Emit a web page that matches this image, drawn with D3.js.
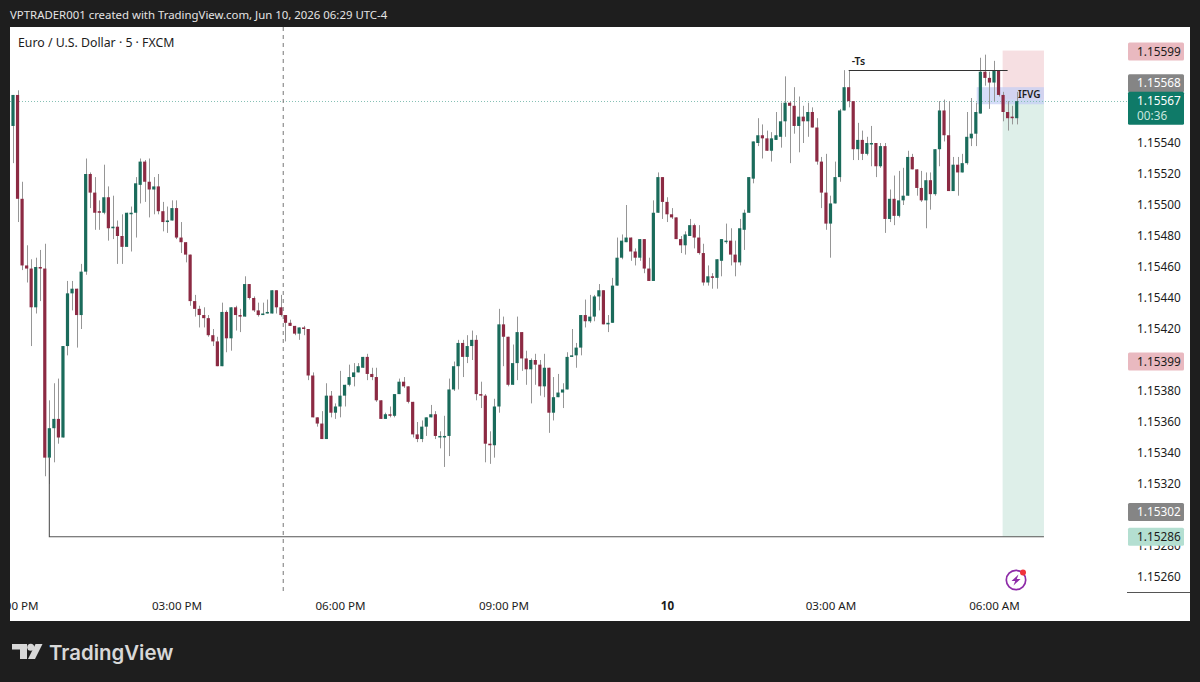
<!DOCTYPE html>
<html>
<head>
<meta charset="utf-8">
<style>
body { margin: 0; background: #1e1e1e; }
svg { display: block; }
text { font-family: "Noto Sans", sans-serif; }
</style>
<script src="https://cdn.jsdelivr.net/npm/d3@7"></script>
</head>
<body>
<svg id="chart" width="1200" height="682"></svg>
<script>
// candles (5 min EURUSD)
const opens = [1.15551,1.15571,1.15504,1.15461,1.15459,1.15434,1.15460,1.15459,1.15337,1.15356,
1.15362,1.15350,1.15409,1.15443,1.15446,1.15429,1.15457,1.15520,1.15508,1.15496,
1.15495,1.15505,1.15485,1.15486,1.15480,1.15473,1.15495,1.15495,1.15513,1.15528,
1.15515,1.15510,1.15512,1.15496,1.15489,1.15490,1.15498,1.15479,1.15476,1.15468,
1.15438,1.15433,1.15429,1.15427,1.15416,1.15412,1.15396,1.15431,1.15414,1.15434,
1.15429,1.15428,1.15449,1.15440,1.15432,1.15429,1.15430,1.15430,1.15445,1.15434,
1.15429,1.15424,1.15422,1.15417,1.15421,1.15420,1.15390,1.15363,1.15359,1.15349,
1.15377,1.15366,1.15370,1.15377,1.15384,1.15389,1.15392,1.15395,1.15402,1.15391,
1.15389,1.15374,1.15362,1.15365,1.15364,1.15378,1.15386,1.15383,1.15373,1.15352,
1.15349,1.15357,1.15363,1.15365,1.15351,1.15351,1.15351,1.15381,1.15396,1.15411,
1.15402,1.15409,1.15413,1.15378,1.15377,1.15346,1.15345,1.15370,1.15423,1.15415,
1.15384,1.15398,1.15418,1.15401,1.15394,1.15400,1.15397,1.15383,1.15395,1.15366,
1.15376,1.15379,1.15381,1.15402,1.15403,1.15408,1.15429,1.15425,1.15428,1.15441,
1.15445,1.15423,1.15424,1.15448,1.15466,1.15476,1.15479,1.15470,1.15466,1.15478,
1.15459,1.15451,1.15495,1.15518,1.15502,1.15494,1.15492,1.15478,1.15474,1.15480,
1.15487,1.15479,1.15469,1.15450,1.15454,1.15453,1.15464,1.15477,1.15477,1.15468,
1.15463,1.15484,1.15495,1.15517,1.15540,1.15545,1.15543,1.15535,1.15542,1.15544,
1.15554,1.15566,1.15564,1.15551,1.15557,1.15554,1.15560,1.15550,1.15528,1.15508,
1.15488,1.15501,1.15518,1.15561,1.15576,1.15567,1.15536,1.15542,1.15533,1.15540,
1.15540,1.15525,1.15538,1.15491,1.15504,1.15493,1.15503,1.15506,1.15531,1.15523,
1.15511,1.15503,1.15516,1.15507,1.15536,1.15561,1.15545,1.15509,1.15526,1.15521,
1.15527,1.15543,1.15546,1.15559,1.15586,1.15582,1.15579,1.15587,1.15571,1.15560,
1.15557,1.15556];
const highs = [1.15571,1.15574,1.15515,1.15474,1.15465,1.15466,1.15471,1.15475,1.15374,1.15385,
1.15388,1.15409,1.15451,1.15451,1.15446,1.15462,1.15530,1.15521,1.15518,1.15503,
1.15526,1.15512,1.15506,1.15490,1.15494,1.15495,1.15499,1.15518,1.15530,1.15529,
1.15530,1.15518,1.15520,1.15502,1.15499,1.15503,1.15503,1.15489,1.15476,1.15468,
1.15442,1.15435,1.15434,1.15429,1.15420,1.15415,1.15437,1.15432,1.15434,1.15435,
1.15433,1.15454,1.15449,1.15441,1.15437,1.15437,1.15439,1.15445,1.15445,1.15442,
1.15429,1.15426,1.15422,1.15421,1.15422,1.15420,1.15392,1.15363,1.15367,1.15385,
1.15380,1.15372,1.15393,1.15384,1.15397,1.15398,1.15398,1.15402,1.15404,1.15395,
1.15395,1.15374,1.15366,1.15370,1.15378,1.15388,1.15389,1.15383,1.15373,1.15360,
1.15361,1.15363,1.15371,1.15367,1.15354,1.15364,1.15388,1.15399,1.15413,1.15413,
1.15416,1.15419,1.15416,1.15386,1.15378,1.15354,1.15375,1.15433,1.15428,1.15415,
1.15410,1.15428,1.15418,1.15406,1.15401,1.15404,1.15400,1.15404,1.15395,1.15389,
1.15391,1.15385,1.15405,1.15420,1.15411,1.15429,1.15439,1.15442,1.15442,1.15449,
1.15445,1.15429,1.15453,1.15479,1.15481,1.15500,1.15479,1.15472,1.15478,1.15478,
1.15466,1.15503,1.15521,1.15518,1.15505,1.15498,1.15492,1.15480,1.15483,1.15491,
1.15488,1.15487,1.15475,1.15461,1.15456,1.15465,1.15478,1.15488,1.15485,1.15477,
1.15491,1.15497,1.15518,1.15541,1.15556,1.15552,1.15548,1.15547,1.15560,1.15566,
1.15583,1.15567,1.15576,1.15570,1.15564,1.15566,1.15563,1.15556,1.15531,1.15533,
1.15506,1.15528,1.15562,1.15587,1.15587,1.15567,1.15553,1.15548,1.15544,1.15551,
1.15540,1.15540,1.15540,1.15510,1.15519,1.15522,1.15524,1.15535,1.15533,1.15523,
1.15522,1.15521,1.15521,1.15536,1.15567,1.15568,1.15567,1.15531,1.15531,1.15533,
1.15560,1.15569,1.15566,1.15595,1.15597,1.15586,1.15593,1.15587,1.15573,1.15567,
1.15564,1.15573];
const lows = [1.15527,1.15489,1.15458,1.15450,1.15409,1.15430,1.15438,1.15325,1.15320,1.15334,
1.15346,1.15350,1.15403,1.15432,1.15408,1.15420,1.15455,1.15498,1.15484,1.15484,
1.15494,1.15477,1.15478,1.15462,1.15462,1.15473,1.15470,1.15479,1.15501,1.15502,
1.15492,1.15494,1.15494,1.15483,1.15482,1.15490,1.15478,1.15469,1.15463,1.15435,
1.15428,1.15421,1.15421,1.15415,1.15409,1.15396,1.15396,1.15405,1.15406,1.15419,
1.15418,1.15428,1.15439,1.15431,1.15428,1.15429,1.15430,1.15430,1.15430,1.15428,
1.15412,1.15422,1.15416,1.15413,1.15416,1.15387,1.15363,1.15357,1.15349,1.15349,
1.15363,1.15362,1.15363,1.15370,1.15383,1.15383,1.15392,1.15395,1.15387,1.15387,
1.15373,1.15362,1.15362,1.15363,1.15363,1.15378,1.15382,1.15372,1.15350,1.15347,
1.15347,1.15351,1.15363,1.15349,1.15343,1.15331,1.15338,1.15380,1.15381,1.15389,
1.15398,1.15400,1.15374,1.15369,1.15334,1.15333,1.15337,1.15366,1.15396,1.15383,
1.15384,1.15387,1.15393,1.15384,1.15372,1.15384,1.15377,1.15376,1.15353,1.15361,
1.15376,1.15369,1.15381,1.15402,1.15395,1.15403,1.15421,1.15424,1.15425,1.15432,
1.15423,1.15418,1.15424,1.15448,1.15465,1.15476,1.15464,1.15461,1.15464,1.15456,
1.15451,1.15451,1.15495,1.15491,1.15489,1.15491,1.15478,1.15469,1.15468,1.15480,
1.15472,1.15468,1.15448,1.15448,1.15446,1.15446,1.15454,1.15475,1.15461,1.15454,
1.15461,1.15471,1.15495,1.15514,1.15538,1.15530,1.15535,1.15528,1.15542,1.15537,
1.15544,1.15527,1.15546,1.15534,1.15540,1.15544,1.15550,1.15526,1.15498,1.15484,
1.15466,1.15501,1.15515,1.15561,1.15563,1.15529,1.15529,1.15529,1.15532,1.15525,
1.15518,1.15524,1.15482,1.15489,1.15487,1.15492,1.15500,1.15506,1.15523,1.15506,
1.15502,1.15485,1.15497,1.15506,1.15525,1.15541,1.15509,1.15509,1.15506,1.15521,
1.15526,1.15538,1.15538,1.15559,1.15577,1.15562,1.15567,1.15570,1.15554,1.15548,
1.15552,1.15552];
const closes = [1.15571,1.15504,1.15461,1.15459,1.15434,1.15460,1.15459,1.15337,1.15356,1.15362,
1.15350,1.15409,1.15443,1.15446,1.15429,1.15457,1.15520,1.15508,1.15495,1.15495,
1.15505,1.15485,1.15486,1.15480,1.15473,1.15495,1.15495,1.15514,1.15528,1.15515,
1.15510,1.15512,1.15496,1.15489,1.15490,1.15498,1.15479,1.15476,1.15468,1.15438,
1.15433,1.15429,1.15427,1.15416,1.15412,1.15396,1.15431,1.15414,1.15434,1.15429,
1.15428,1.15449,1.15440,1.15432,1.15429,1.15430,1.15431,1.15445,1.15434,1.15429,
1.15424,1.15422,1.15417,1.15421,1.15420,1.15390,1.15363,1.15359,1.15349,1.15377,
1.15366,1.15370,1.15377,1.15384,1.15389,1.15392,1.15396,1.15402,1.15391,1.15389,
1.15374,1.15362,1.15365,1.15364,1.15378,1.15386,1.15383,1.15373,1.15352,1.15349,
1.15357,1.15363,1.15365,1.15351,1.15351,1.15351,1.15381,1.15396,1.15411,1.15402,
1.15409,1.15413,1.15378,1.15377,1.15346,1.15345,1.15370,1.15423,1.15415,1.15384,
1.15398,1.15418,1.15401,1.15394,1.15400,1.15397,1.15383,1.15395,1.15366,1.15376,
1.15379,1.15381,1.15402,1.15403,1.15408,1.15429,1.15425,1.15428,1.15441,1.15445,
1.15423,1.15424,1.15448,1.15466,1.15477,1.15479,1.15470,1.15466,1.15478,1.15459,
1.15451,1.15495,1.15518,1.15502,1.15494,1.15492,1.15478,1.15474,1.15481,1.15487,
1.15479,1.15469,1.15450,1.15454,1.15453,1.15465,1.15478,1.15477,1.15468,1.15463,
1.15485,1.15495,1.15518,1.15541,1.15545,1.15543,1.15535,1.15543,1.15545,1.15554,
1.15566,1.15564,1.15551,1.15557,1.15554,1.15560,1.15550,1.15528,1.15508,1.15488,
1.15501,1.15518,1.15561,1.15576,1.15567,1.15536,1.15542,1.15533,1.15540,1.15540,
1.15525,1.15538,1.15491,1.15504,1.15493,1.15503,1.15506,1.15531,1.15523,1.15511,
1.15503,1.15516,1.15507,1.15536,1.15561,1.15545,1.15509,1.15526,1.15521,1.15527,
1.15544,1.15546,1.15560,1.15586,1.15582,1.15579,1.15587,1.15571,1.15560,1.15556,
1.15556,1.15567];

// axis labels
const priceTicks = [1.15540,1.15520,1.15500,1.15480,1.15460,1.15440,1.15420,1.15380,1.15360,1.15340,1.15320,1.15280,1.15260];
const timeTickBars = [0,36,72,108,144,180,216];
const timeTickLabels = ["12:00 PM","03:00 PM","06:00 PM","09:00 PM","10","03:00 AM","06:00 AM"];

// drawings on the chart
const lastPrice = 1.15567;
const countdown = "00:36";
const entryPrice = 1.15568;
const stopPrice = 1.15599;
const targetPrice = 1.15286;
const tsLevel = 1.15587;
const ifvgTop = 1.15576;
const ifvgBottom = 1.15565;
const sidePrices = [1.15599,1.15568,1.15399,1.15302,1.15286];
const sideFills = ["#e9b9c0","#858585","#e9b9c0","#858585","#b4dfd1"];
const sideText = ["#1c1c1c","#ffffff","#1c1c1c","#ffffff","#1c1c1c"];

const bullColor = "#1a6b5b", bearColor = "#8c2a43", wickColor = "#969696";

const svg = d3.select("#chart");

const x = d3.scaleLinear().domain([0, 221]).range([13, 1016.7]);
const y = d3.scaleLinear().domain([1.15260, 1.15540]).range([577, 143]);

// frame
svg.append("rect").attr("x", 10).attr("y", 27).attr("width", 1180).attr("height", 594).attr("fill", "#ffffff");

svg.append("defs").append("clipPath").attr("id", "pane")
  .append("rect").attr("x", 10).attr("y", 27).attr("width", 1118).attr("height", 594);

const pane = svg.append("g").attr("clip-path", "url(#pane)");

// position zones
const zoneLeft = 217.9, zoneRight = 227;
pane.append("rect").attr("x", x(zoneLeft)).attr("width", x(zoneRight) - x(zoneLeft))
  .attr("y", y(stopPrice) - 1).attr("height", y(entryPrice) - y(stopPrice) + 1).attr("fill", "#f6dfe2");
pane.append("rect").attr("x", x(zoneLeft)).attr("width", x(zoneRight) - x(zoneLeft))
  .attr("y", y(entryPrice)).attr("height", y(targetPrice) - y(entryPrice)).attr("fill", "#deefe9");
pane.append("rect").attr("x", x(212.2)).attr("width", x(zoneRight) - x(212.2))
  .attr("y", y(ifvgTop)).attr("height", y(ifvgBottom) - y(ifvgTop)).attr("fill", "#c3cdf5").attr("opacity", 0.7);

// last price dotted line and the dashed vertical
pane.append("line").attr("x1", 10).attr("x2", 1128)
  .attr("y1", Math.floor(y(lastPrice)) + 0.5).attr("y2", Math.floor(y(lastPrice)) + 0.5)
  .attr("stroke", "#86c0b5").attr("stroke-dasharray", "1 2");
pane.append("line").attr("x1", x(59.5)).attr("x2", x(59.5)).attr("y1", 27).attr("y2", 593)
  .attr("stroke", "#777777").attr("stroke-dasharray", "4 4");

// candles
const bars = d3.range(opens.length);
const candle = pane.append("g").selectAll("g").data(bars).join("g");
candle.append("line")
  .attr("x1", i => Math.round(x(i)) + 0.5).attr("x2", i => Math.round(x(i)) + 0.5)
  .attr("y1", i => y(highs[i])).attr("y2", i => y(lows[i]))
  .attr("stroke", wickColor);
candle.append("rect")
  .attr("x", i => x(i) - 1.6).attr("width", 3.2)
  .attr("y", i => y(Math.max(opens[i], closes[i])))
  .attr("height", i => Math.max(1.5, Math.abs(y(opens[i]) - y(closes[i]))))
  .attr("fill", i => closes[i] >= opens[i] ? bullColor : bearColor);

// bracket and level lines
pane.append("path")
  .attr("d", d3.line()([[x(8), y(closes[7])], [x(8), y(targetPrice)], [x(zoneRight), y(targetPrice)]]))
  .attr("fill", "none").attr("stroke", "#555555").attr("stroke-width", 1.1);
pane.append("line").attr("x1", x(184)).attr("x2", x(219))
  .attr("y1", Math.round(y(tsLevel)) + 0.5).attr("y2", Math.round(y(tsLevel)) + 0.5)
  .attr("stroke", "#333333");
pane.append("text").attr("x", x(184) + 3).attr("y", y(tsLevel) - 5)
  .attr("font-size", 10.5).attr("font-weight", 600).attr("fill", "#1c1c1c").text("-Ts");
pane.append("text").attr("x", 1018).attr("y", y(lastPrice) - 3.5)
  .attr("font-size", 10).attr("font-weight", 600).attr("fill", "#1c1c1c").text("IFVG");

// alert icon
const icon = pane.append("g").attr("transform", "translate(1016,580)");
icon.append("circle").attr("r", 9.7).attr("fill", "none").attr("stroke", "#8e2ca8").attr("stroke-width", 1.7);
icon.append("path").attr("d", "M2.5,-5.5 L-4.5,1 L-0.8,1 L-2.5,5.5 L4.5,-1 L0.8,-1 Z").attr("fill", "#8e2ca8");
icon.append("circle").attr("cx", 7).attr("cy", -7.5).attr("r", 3).attr("fill", "#f0323c");

// time axis
const xAxis = d3.axisBottom(x).tickValues(timeTickBars)
  .tickFormat((d, i) => timeTickLabels[i]).tickSize(0).tickPadding(0);
const xG = pane.append("g").attr("transform", "translate(0,602)").call(xAxis);
xG.select(".domain").remove();
xG.selectAll("text").attr("font-size", 11.6).attr("font-family", '"Noto Sans", sans-serif')
  .attr("fill", "#1c1c1c")
  .attr("font-weight", (d, i) => timeTickLabels[i] === "10" ? 700 : 400);

// price axis
const yAxis = d3.axisRight(y).tickValues(priceTicks).tickFormat(d3.format(".5f")).tickSize(0).tickPadding(0);
const yG = svg.append("g").attr("transform", "translate(1137,0)").call(yAxis);
yG.select(".domain").remove();
yG.selectAll("text").attr("font-size", 11.8).attr("font-family", '"Noto Sans", sans-serif').attr("fill", "#1c1c1c");
svg.append("line").attr("x1", 1127).attr("x2", 1190).attr("y1", 592.5).attr("y2", 592.5).attr("stroke", "#555555");

// price tags on the axis, the entry tag sits above the last price tag
const tagY = sidePrices.map(p => p === entryPrice ? y(lastPrice) - 9.5 - 8.5 : y(p));
const tag = svg.append("g").selectAll("g").data(sidePrices).join("g")
  .attr("transform", (d, i) => `translate(1128,${tagY[i]})`);
tag.append("rect").attr("y", -9).attr("width", 56).attr("height", 18).attr("rx", 1.5)
  .attr("fill", (d, i) => sideFills[i]);
tag.append("text").attr("x", 9).attr("y", 4.3).attr("font-size", 11.8)
  .attr("fill", (d, i) => sideText[i]).text(d3.format(".5f"));

const lastTag = svg.append("g").attr("transform", `translate(1128,${y(lastPrice) - 9.5})`);
lastTag.append("rect").attr("width", 56).attr("height", 33).attr("rx", 1.5).attr("fill", "#0f7a68");
lastTag.append("text").attr("x", 9).attr("y", 13.5).attr("font-size", 11.8).attr("fill", "#ffffff").text(d3.format(".5f")(lastPrice));
lastTag.append("text").attr("x", 9).attr("y", 28).attr("font-size", 11.8).attr("fill", "#c9e6df").text(countdown);

// title bits
svg.append("text").attr("x", 10).attr("y", 19).attr("font-size", 11.4).attr("fill", "#e4e4e4")
  .text("VPTRADER001 created with TradingView.com, Jun 10, 2026 06:29 UTC-4");
svg.append("text").attr("x", 18).attr("y", 47).attr("font-size", 12.3).attr("fill", "#1c1c1c")
  .text("Euro / U.S. Dollar · 5 · FXCM");

// TradingView mark
const logo = svg.append("g").attr("fill", "#d8d8d8");
logo.append("path").attr("d", "M12,644 H27 V659 H20 V649.5 H12 Z");
logo.append("circle").attr("cx", 30.7).attr("cy", 647.3).attr("r", 3.5);
logo.append("path").attr("d", "M35.5,644 H42.5 L35,659 H28 Z");
svg.append("text").attr("x", 49).attr("y", 659.5).attr("font-size", 20.4).attr("font-weight", 600)
  .style("font-family", "Inter, sans-serif").attr("fill", "#d8d8d8").text("TradingView");
</script>
</body>
</html>
